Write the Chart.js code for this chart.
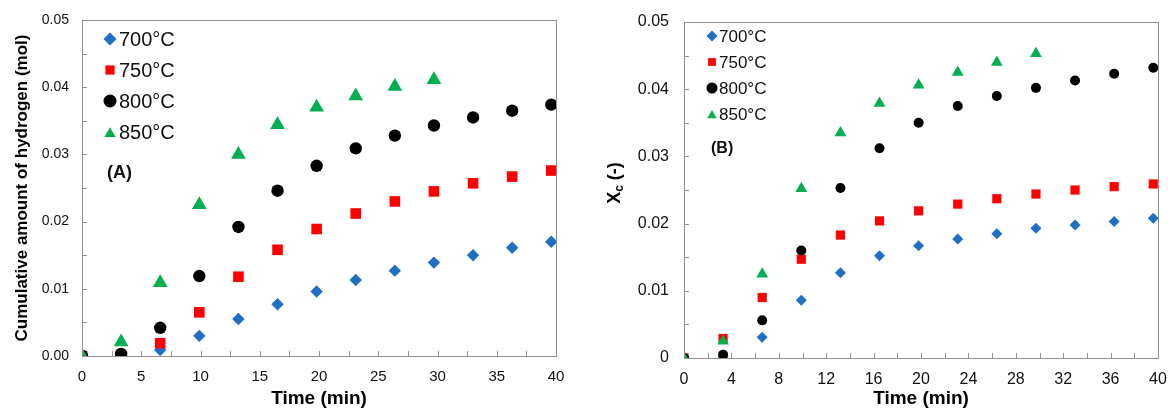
<!DOCTYPE html>
<html>
<head>
<meta charset="utf-8">
<script src="https://cdn.jsdelivr.net/npm/chart.js@4.4.1/dist/chart.umd.min.js"></script>
<style>
  body { margin: 0; background: #fff; }
  #wrap { position: relative; width: 1168px; height: 412px; overflow: hidden; }
  #panelA { position: absolute; left: 0; top: 0; }
  #panelB { position: absolute; left: 575px; top: 0; }
</style>
</head>
<body>
<div id="wrap">
  <canvas id="panelA" width="575" height="412"></canvas>
  <canvas id="panelB" width="593" height="412"></canvas>
</div>
<script>
// sampling times (min)
const times = [0, 3.3, 6.6, 9.9, 13.2, 16.5, 19.8, 23.1, 26.4, 29.7, 33, 36.3, 39.6];
const seriesNames = ['700°C', '750°C', '800°C', '850°C'];

// (A) cumulative hydrogen produced (mol)
const h2_700 = [0, 0.0000, 0.0009, 0.0030, 0.0055, 0.0077, 0.0096, 0.0113, 0.0127, 0.0139, 0.0150, 0.0161, 0.0170];
const h2_750 = [0, 0.0000, 0.0019, 0.0065, 0.0118, 0.0158, 0.0189, 0.0212, 0.0230, 0.0245, 0.0257, 0.0267, 0.0276];
const h2_800 = [0, 0.0003, 0.0042, 0.0119, 0.0192, 0.0246, 0.0283, 0.0309, 0.0328, 0.0343, 0.0355, 0.0365, 0.0374];
const h2_850 = [0, 0.0021, 0.0109, 0.0225, 0.0300, 0.0344, 0.0370, 0.0387, 0.0401, 0.0411];

// (B) carbon conversion Xc (-)
const xc_700 = [0, 0.0002, 0.0031, 0.0086, 0.0127, 0.0152, 0.0167, 0.0177, 0.0185, 0.0193, 0.0198, 0.0203, 0.0208];
const xc_750 = [0, 0.0029, 0.0090, 0.0147, 0.0183, 0.0204, 0.0219, 0.0229, 0.0237, 0.0244, 0.0250, 0.0255, 0.0259];
const xc_800 = [0, 0.0005, 0.0056, 0.0160, 0.0253, 0.0312, 0.0350, 0.0375, 0.0390, 0.0402, 0.0413, 0.0423, 0.0432];
const xc_850 = [0, 0.0025, 0.0125, 0.0252, 0.0335, 0.0379, 0.0406, 0.0425, 0.0440, 0.0453];

const colors = ['#1f6fc5', '#ff0000', '#000000', '#00b050'];
const styles = ['rectRot', 'rect', 'circle', 'triangle'];

const FONT = '"Liberation Sans", Arial, Helvetica, sans-serif';
const AXIS_GRAY = '#8f8f8f';

function pairs(ys) {
  return ys.map((y, i) => ({ x: times[i], y: y }));
}

// simple marker shapes for the in-plot legend
function marker(ctx, style, x, y, r, color) {
  ctx.save();
  ctx.fillStyle = color;
  ctx.beginPath();
  if (style === 'rectRot') {
    ctx.moveTo(x - r, y); ctx.lineTo(x, y - r); ctx.lineTo(x + r, y); ctx.lineTo(x, y + r);
  } else if (style === 'rect') {
    const s = r * Math.SQRT1_2;
    ctx.rect(x - s, y - s, 2 * s, 2 * s);
  } else if (style === 'circle') {
    ctx.arc(x, y, r, 0, Math.PI * 2);
  } else {
    const a = Math.PI * 2 / 3;
    for (let k = 0; k < 3; k++) {
      const px = x + Math.sin(k * a) * r, py = y - Math.cos(k * a) * r + r * 0.25;
      if (k === 0) ctx.moveTo(px, py); else ctx.lineTo(px, py);
    }
  }
  ctx.closePath();
  ctx.fill();
  ctx.restore();
}

// frame, inward ticks, legend and panel tag
const decor = {
  id: 'decor',
  afterDraw(chart, args, o) {
    const ctx = chart.ctx;
    const area = chart.chartArea;
    const xs = chart.scales.x, ys = chart.scales.y;
    ctx.save();
    ctx.strokeStyle = AXIS_GRAY;
    ctx.lineWidth = 1;
    ctx.strokeRect(Math.round(area.left) + 0.5, Math.round(area.top) + 0.5,
      Math.round(area.right - area.left), Math.round(area.bottom - area.top));
    ctx.beginPath();
    for (let v = xs.min; v <= xs.max + 1e-9; v += o.minorX) {
      const px = Math.round(xs.getPixelForValue(v)) + 0.5;
      ctx.moveTo(px, area.bottom); ctx.lineTo(px, area.bottom - 5);
    }
    for (let v = ys.min; v <= ys.max + 1e-9; v += o.minorY) {
      const py = Math.round(ys.getPixelForValue(v)) + 0.5;
      ctx.moveTo(area.left, py); ctx.lineTo(area.left + 5, py);
    }
    ctx.stroke();

    // legend inside the plot
    ctx.textBaseline = 'middle';
    ctx.textAlign = 'left';
    ctx.fillStyle = '#111';
    ctx.font = o.legendSize + 'px ' + FONT;
    chart.data.datasets.slice().sort((a, b) => a.key - b.key).forEach((ds, i) => {
      const my = area.top + o.legendTop + i * o.legendGap;
      const mx = area.left + o.legendLeft;
      marker(ctx, ds.pointStyle, mx, my, o.legendMarker, ds.backgroundColor);
      ctx.fillText(ds.label, mx + o.textGap, my + 1);
    });

    ctx.font = 'bold ' + o.tagSize + 'px ' + FONT;
    ctx.fillText(o.tag, area.left + o.tagX, area.top + o.tagY);

    // y title with subscript when requested
    if (o.yTitle) {
      const t = o.yTitle;
      ctx.translate(t.x, (area.top + area.bottom) / 2 + t.dy);
      ctx.rotate(-Math.PI / 2);
      const big = 'bold ' + t.size + 'px ' + FONT, small = 'bold ' + t.subSize + 'px ' + FONT;
      ctx.font = big; const w1 = ctx.measureText(t.main).width, w3 = ctx.measureText(t.rest).width;
      ctx.font = small; const w2 = ctx.measureText(t.sub).width;
      let x0 = -(w1 + w2 + w3) / 2;
      ctx.fillStyle = '#000';
      ctx.font = big; ctx.fillText(t.main, x0, 0);
      ctx.font = small; ctx.fillText(t.sub, x0 + w1, t.subShift);
      ctx.font = big; ctx.fillText(t.rest, x0 + w1 + w2, 0);
    }
    ctx.restore();
  }
};

function buildChart(id, series, cfg) {
  const datasets = series.map((ys, i) => ({
    key: i,
    label: seriesNames[i],
    data: pairs(ys),
    pointStyle: styles[i],
    pointRadius: cfg.radius[i],
    backgroundColor: colors[i],
    borderColor: colors[i],
    borderWidth: 0,
    showLine: false,
    order: 3 - i
  }));
  return new Chart(document.getElementById(id), {
    type: 'scatter',
    data: { datasets: datasets },
    plugins: [decor],
    options: {
      responsive: false,
      animation: false,
      devicePixelRatio: 1,
      layout: { padding: cfg.padding },
      plugins: {
        legend: { display: false },
        tooltip: { enabled: false },
        decor: cfg.decor
      },
      scales: {
        x: {
          type: 'linear', min: 0, max: 40,
          // fixed axis height; end-label overhang is covered by the layout padding
          afterFit: s => { s.height = cfg.xHeight; s.paddingLeft = 0; s.paddingRight = 0; },
          grid: { display: false, drawTicks: false },
          border: { display: false },
          ticks: { stepSize: cfg.xStep, padding: cfg.xPad, color: '#111', font: { family: FONT, size: cfg.xTickSize } },
          title: { display: true, text: 'Time (min)', color: '#000', padding: { top: 0, bottom: cfg.xTitlePad },
            font: { family: FONT, size: 19, weight: 'bold' } }
        },
        y: {
          type: 'linear', min: 0, max: 0.05,
          afterFit: s => { s.width = cfg.yWidth; s.paddingTop = 0; s.paddingBottom = 0; },
          grid: { display: false, drawTicks: false },
          border: { display: false },
          ticks: { stepSize: 0.01, padding: cfg.yPad, color: '#111', font: { family: FONT, size: cfg.yTickSize },
            callback: cfg.yFormat },
          title: cfg.yTitle
        }
      }
    }
  });
}

buildChart('panelA', [h2_700, h2_750, h2_800, h2_850], {
  radius: [6.2, 7.5, 6.2, 8.5],
  padding: { left: 0, top: 20, right: 19, bottom: 0 },
  xHeight: 56, yWidth: 82, xStep: 5, xPad: 12, yPad: 13, xTickSize: 15, yTickSize: 14, xTitlePad: 2,
  yFormat: v => v.toFixed(2),
  yTitle: { display: true, text: 'Cumulative amount of hydrogen (mol)', color: '#000', padding: { top: 12, bottom: 0 },
    font: { family: FONT, size: 17, weight: 'bold' } },
  decor: { minorX: 2.5, minorY: 0.005, legendSize: 20, legendTop: 19, legendGap: 31, legendLeft: 28,
    legendMarker: 6.5, textGap: 9, tag: '(A)', tagSize: 18, tagX: 25, tagY: 153 }
});

buildChart('panelB', [xc_700, xc_750, xc_800, xc_850], {
  radius: [5.5, 6.5, 5, 6.8],
  padding: { left: 0, top: 22, right: 10, bottom: 0 },
  xHeight: 54, yWidth: 109, xStep: 4, xPad: 12, yPad: 15, xTickSize: 16, yTickSize: 16, xTitlePad: 2,
  yFormat: v => (v === 0 ? '0' : v.toFixed(2)),
  yTitle: { display: false },
  decor: { minorX: 2, minorY: 0.005, legendSize: 17, legendTop: 14, legendGap: 26, legendLeft: 28,
    legendMarker: 5.5, textGap: 7, tag: '(B)', tagSize: 16, tagX: 27, tagY: 127,
    yTitle: { x: 40, dy: -7, size: 18, subSize: 12, subShift: 5, main: 'X', sub: 'c', rest: ' (-)' } }
});
</script>
</body>
</html>
